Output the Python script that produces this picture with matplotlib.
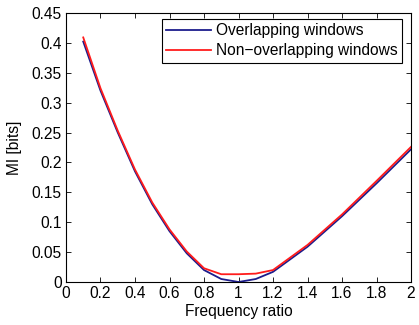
import matplotlib.pyplot as plt

plt.rcParams["font.family"] = ["Liberation Sans", "DejaVu Sans"]

# frequency ratios sampled in the simulation
freq_ratio = [0.1, 0.2, 0.3, 0.4, 0.5, 0.6, 0.7, 0.8, 0.9, 1.0,
              1.1, 1.2, 1.4, 1.6, 1.8, 2.0]

# mutual information estimates [bits]
mi_overlap = [0.402, 0.320, 0.250, 0.185, 0.130, 0.085, 0.048, 0.020,
              0.005, 0.000, 0.005, 0.017, 0.059, 0.110, 0.165, 0.222]
mi_nonoverlap = [0.409, 0.324, 0.253, 0.188, 0.133, 0.088, 0.051, 0.023,
                 0.013, 0.013, 0.014, 0.020, 0.062, 0.113, 0.169, 0.226]

FONT_SIZE = 11.2

fig = plt.figure(figsize=(4.19, 3.25), dpi=100)
ax = fig.add_axes([0.1575, 0.1323, 0.8235, 0.828])

ax.plot(freq_ratio, mi_overlap, color="#1c1c8c", linewidth=1.3,
        label="Overlapping windows")
ax.plot(freq_ratio, mi_nonoverlap, color="#ff1c1c", linewidth=1.3,
        label="Non\u2212overlapping windows")

ax.set_xlim(0, 2)
ax.set_ylim(0, 0.45)
ax.set_xticks([0, 0.2, 0.4, 0.6, 0.8, 1, 1.2, 1.4, 1.6, 1.8, 2])
ax.set_xticklabels(["0", "0.2", "0.4", "0.6", "0.8", "1", "1.2", "1.4",
                    "1.6", "1.8", "2"])
ax.set_yticks([0, 0.05, 0.1, 0.15, 0.2, 0.25, 0.3, 0.35, 0.4, 0.45])
ax.set_yticklabels(["0", "0.05", "0.1", "0.15", "0.2", "0.25", "0.3",
                    "0.35", "0.4", "0.45"])
ax.tick_params(direction="in", top=True, right=True, labelsize=FONT_SIZE,
               length=3.5, width=0.6, pad=3)
for spine in ax.spines.values():
    spine.set_linewidth(0.8)

ax.set_xlabel("Frequency ratio", fontsize=FONT_SIZE, labelpad=2)
ax.set_ylabel("MI [bits]", fontsize=FONT_SIZE, labelpad=7)

leg = ax.legend(loc="upper right", bbox_to_anchor=(0.975, 0.978),
                fontsize=FONT_SIZE, fancybox=False, framealpha=1,
                edgecolor="black", borderaxespad=0, handlelength=2.9,
                handletextpad=0.3, borderpad=0.3, labelspacing=0.3)
leg.get_frame().set_linewidth(0.8)

fig.savefig("out.png", dpi=100)
